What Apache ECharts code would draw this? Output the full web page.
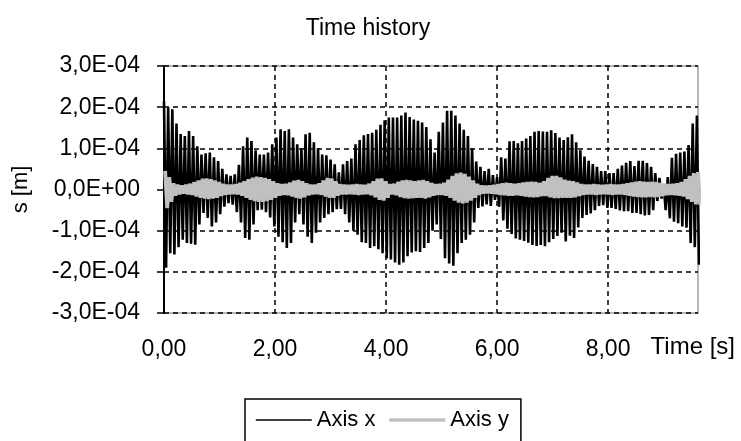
<!DOCTYPE html>
<html>
<head>
<meta charset="utf-8">
<title>Time history</title>
<script src="https://cdn.jsdelivr.net/npm/echarts@6.0.0/dist/echarts.min.js"></script>
<style>
  html, body { margin: 0; padding: 0; background: #fff; }
  #chart { width: 741px; height: 441px; }
</style>
</head>
<body>
<div id="chart"></div>
<script>
// time between two successive upper peaks of the traces, in s
var timeStep = 0.075;

// x ticks [s] and y ticks [1E-04 m]
var timeTicks = [0, 2, 4, 6, 8];
var dispTicks = [-3, -2, -1, 0, 1, 2, 3];

// Axis x: upper and lower peaks of each cycle, in 1E-04 m
var axisXPeaks = [
    2.15, 2.0, 1.95, 1.6, 1.35, 1.3, 1.42, 1.3, 1.05, 0.85,
    0.88, 0.9, 0.78, 0.69, 0.5, 0.37, 0.33, 0.37, 0.6, 1.05,
    1.26, 1.18, 0.95, 0.85, 0.85, 0.9, 1.1, 1.26, 1.46, 1.42,
    1.46, 1.26, 1.1, 1.0, 1.34, 1.38, 1.15, 1.0, 0.85, 0.83,
    0.73, 0.61, 0.42, 0.61, 0.69, 0.75, 1.1, 1.2, 1.32, 1.35,
    1.38, 1.45, 1.57, 1.68, 1.75, 1.75, 1.75, 1.8, 1.87, 1.76,
    1.7, 1.67, 1.63, 1.52, 1.22, 0.9, 1.4, 1.63, 1.91, 1.91,
    1.8, 1.6, 1.45, 1.3, 1.0, 0.68, 0.55, 0.45, 0.5, 0.35,
    0.3, 0.78, 0.75, 1.17, 1.18, 1.12, 1.18, 1.24, 1.3, 1.4,
    1.42, 1.41, 1.4, 1.44, 1.37, 1.26, 1.2, 1.27, 1.34, 1.15,
    0.95, 0.8, 0.7, 0.62, 0.55, 0.45, 0.45, 0.4, 0.4, 0.5,
    0.58, 0.65, 0.69, 0.57, 0.7, 0.7, 0.64, 0.55, 0.4, 0.28,
    0.13, 0.3, 0.77, 0.87, 0.9, 0.92, 1.08, 1.6, 1.8
];
var axisXTroughs = [
    -1.9, -1.55, -1.58, -1.4, -1.22, -1.3, -1.32, -1.34, -0.85, -0.57,
    -0.69, -0.9, -0.8, -0.6, -0.42, -0.33, -0.37, -0.55, -0.8, -1.18,
    -1.22, -0.85, -0.5, -0.49, -0.55, -0.68, -0.9, -1.15, -1.28, -1.42,
    -1.3, -0.8, -0.6, -0.85, -1.15, -1.3, -1.05, -0.8, -0.69, -0.6,
    -0.55, -0.48, -0.47, -0.6, -0.8, -1.0, -1.1, -1.28, -1.3, -1.42,
    -1.38, -1.45, -1.55, -1.67, -1.7, -1.77, -1.83, -1.77, -1.62, -1.53,
    -1.5, -1.52, -1.42, -1.3, -1.0, -0.85, -1.2, -1.67, -1.8, -1.85,
    -1.55, -1.3, -1.22, -1.1, -0.8, -0.45, -0.41, -0.36, -0.4, -0.25,
    -0.42, -0.75, -0.95, -1.08, -1.19, -1.22, -1.25, -1.29, -1.35, -1.37,
    -1.35, -1.38, -1.28, -1.2, -1.13, -1.05, -1.26, -1.12, -1.18, -0.92,
    -0.69, -0.62, -0.58, -0.5, -0.4, -0.38, -0.45, -0.45, -0.47, -0.51,
    -0.53, -0.53, -0.57, -0.57, -0.6, -0.63, -0.62, -0.5, -0.28, -0.22,
    -0.5, -0.7, -0.78, -0.82, -0.9, -0.93, -1.3, -1.4, -1.83
];

// Axis y: same, the grey band round zero
var axisYPeaks = [
    0.45, 0.3, 0.15, 0.12, 0.1, 0.12, 0.14, 0.18, 0.22, 0.26,
    0.27, 0.25, 0.22, 0.18, 0.14, 0.12, 0.12, 0.13, 0.16, 0.2,
    0.25, 0.29, 0.31, 0.3, 0.28, 0.25, 0.2, 0.15, 0.13, 0.14,
    0.17, 0.21, 0.23, 0.2, 0.15, 0.12, 0.12, 0.15, 0.22, 0.28,
    0.27, 0.2, 0.13, 0.12, 0.11, 0.12, 0.13, 0.12, 0.11, 0.14,
    0.2, 0.26, 0.27, 0.2, 0.13, 0.14, 0.19, 0.22, 0.23, 0.22,
    0.2, 0.22, 0.23, 0.2, 0.16, 0.13, 0.14, 0.16, 0.24, 0.33,
    0.39, 0.41, 0.38, 0.31, 0.22, 0.14, 0.1, 0.09, 0.1, 0.11,
    0.13, 0.15, 0.16, 0.15, 0.14, 0.15, 0.17, 0.18, 0.19, 0.18,
    0.16, 0.2, 0.28, 0.33, 0.33, 0.29, 0.24, 0.21, 0.2, 0.17,
    0.13, 0.12, 0.12, 0.13, 0.12, 0.11, 0.12, 0.13, 0.12, 0.12,
    0.13, 0.15, 0.17, 0.19, 0.2, 0.19, 0.18, 0.19, 0.18, 0.16,
    0.14, 0.13, 0.14, 0.15, 0.18, 0.25, 0.33, 0.4, 0.42
];
var axisYTroughs = [
    -0.45, -0.3, -0.15, -0.12, -0.1, -0.12, -0.13, -0.17, -0.2, -0.22,
    -0.23, -0.22, -0.2, -0.16, -0.13, -0.12, -0.11, -0.12, -0.15, -0.2,
    -0.25, -0.28, -0.3, -0.3, -0.28, -0.25, -0.2, -0.15, -0.13, -0.14,
    -0.17, -0.2, -0.22, -0.19, -0.14, -0.12, -0.11, -0.13, -0.17, -0.2,
    -0.2, -0.15, -0.12, -0.12, -0.11, -0.12, -0.13, -0.12, -0.11, -0.14,
    -0.19, -0.25, -0.27, -0.2, -0.12, -0.14, -0.18, -0.21, -0.22, -0.21,
    -0.2, -0.2, -0.22, -0.19, -0.15, -0.13, -0.13, -0.15, -0.2, -0.27,
    -0.32, -0.34, -0.32, -0.27, -0.2, -0.13, -0.1, -0.09, -0.1, -0.11,
    -0.13, -0.14, -0.15, -0.15, -0.14, -0.15, -0.17, -0.18, -0.19, -0.18,
    -0.16, -0.16, -0.19, -0.21, -0.21, -0.2, -0.2, -0.2, -0.19, -0.16,
    -0.13, -0.12, -0.12, -0.13, -0.12, -0.11, -0.12, -0.13, -0.12, -0.12,
    -0.13, -0.15, -0.17, -0.18, -0.19, -0.19, -0.18, -0.19, -0.18, -0.16,
    -0.14, -0.13, -0.14, -0.15, -0.17, -0.23, -0.3, -0.36, -0.37
];

// put peaks and troughs one after the other on the time axis
var zigzag = function (peaks, troughs, offset) {
    var pts = [];
    peaks.forEach(function (p, k) {
        pts.push([k * timeStep + offset, p]);
        pts.push([k * timeStep + offset + timeStep / 2, troughs[k]]);
    });
    return pts;
};

var font = 'Liberation Sans, Arial, sans-serif';
var txt = { fontFamily: font, fontSize: 22, color: '#000' };
var tickTxt = { fontFamily: font, fontSize: 23, color: '#000' };

var chart = echarts.init(document.getElementById('chart'));
chart.setOption({
    animation: false,
    backgroundColor: '#fff',
    title: {
        text: 'Time history',
        left: 363,
        top: 12,
        textAlign: 'center',
        textStyle: { fontFamily: font, fontSize: 23, fontWeight: 'normal', color: '#000' }
    },
    legend: {
        data: [
            { name: 'Axis x', lineStyle: { width: 1.6 } },
            { name: 'Axis y', lineStyle: { width: 3.5 } }
        ],
        left: 245,
        top: 399,
        padding: [10, 12, 30, 10],
        borderColor: '#000',
        borderWidth: 1.5,
        itemWidth: 56,
        itemHeight: 14,
        itemGap: 12,
        itemStyle: { opacity: 0 },
        textStyle: txt
    },
    // axis name of x sits level with the tick labels, right of the plot
    graphic: [{
        type: 'text',
        right: 6,
        top: 335,
        style: { text: 'Time [s]', font: '24px ' + font, fill: '#000' }
    }],
    grid: {
        left: 164, right: 43, top: 66, bottom: 128,
        show: true,
        borderColor: '#a0a0a0',
        borderWidth: 1.5
    },
    xAxis: {
        type: 'value',
        min: 0,
        max: 9.62,
        interval: 2,
        axisLine: { lineStyle: { color: '#000', width: 2 } },
        axisTick: { customValues: timeTicks, length: 7, lineStyle: { color: '#000', width: 1.5 } },
        axisLabel: Object.assign({
            customValues: timeTicks,
            margin: 25,
            alignMinLabel: 'center',
            formatter: function (v) { return v.toFixed(2).replace('.', ','); }
        }, tickTxt),
        splitLine: { show: true, lineStyle: { type: [5, 4], color: '#000', width: 1.5 } }
    },
    yAxis: {
        type: 'value',
        min: dispTicks[0],
        max: dispTicks[dispTicks.length - 1],
        interval: 1,
        name: 's [m]',
        nameLocation: 'middle',
        nameRotate: 90,
        nameGap: 132,
        nameTextStyle: txt,
        axisLine: { show: true, lineStyle: { color: '#000', width: 2 } },
        axisTick: { show: true, length: 7, lineStyle: { color: '#000', width: 1.5 } },
        axisLabel: Object.assign({
            margin: 24,
            formatter: function (v) {
                if (v === 0) return '0,0E+00';
                return v.toFixed(1).replace('.', ',') + 'E-04';
            }
        }, tickTxt),
        splitLine: { show: true, lineStyle: { type: [5, 4], color: '#000', width: 1.5 } }
    },
    series: [{
        name: 'Axis x',
        type: 'line',
        symbol: 'none',
        data: zigzag(axisXPeaks, axisXTroughs, 0),
        lineStyle: { color: '#000', width: 2.6 },
        itemStyle: { color: '#000' }
    }, {
        name: 'Axis y',
        type: 'line',
        symbol: 'none',
        data: zigzag(axisYPeaks, axisYTroughs, 0.02),
        lineStyle: { color: '#c0c0c0', width: 3.8 },
        itemStyle: { color: '#c0c0c0' }
    }]
});
</script>
</body>
</html>
